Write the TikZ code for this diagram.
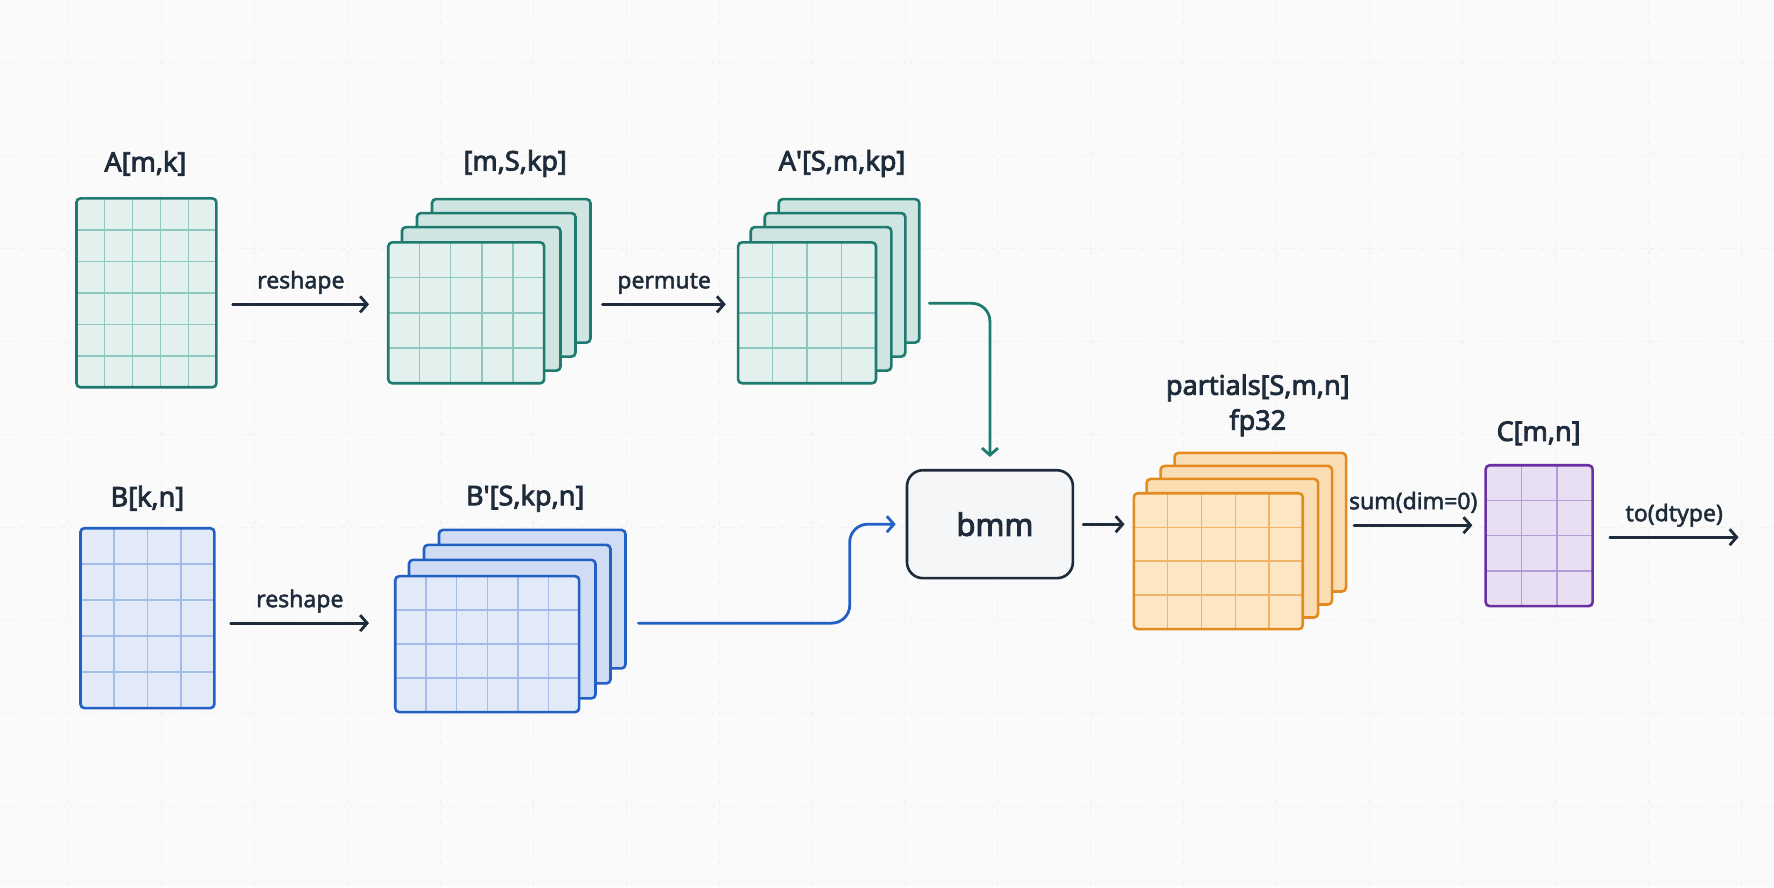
\documentclass[tikz,border=0pt]{standalone}
\usepackage{fontspec}
\setmainfont{Noto Sans}
\newfontfamily\headfont{Noto Sans}[FakeBold=3]
\newfontfamily\tagfont{Noto Sans}[FakeBold=2]
\usepackage{tikz}
\usetikzlibrary{positioning,calc,arrows.meta}
\definecolor{ink}{HTML}{1E2B3A}
\definecolor{paper}{HTML}{FAFAFA}
\definecolor{boxfill}{HTML}{F5F6F8}
\definecolor{tealline}{HTML}{1F7A70}
\definecolor{tealfill}{HTML}{E3F1EE}
\definecolor{tealgrid}{HTML}{8FC6BF}
\definecolor{blueline}{HTML}{2360C4}
\definecolor{bluefill}{HTML}{E2EAF8}
\definecolor{bluegrid}{HTML}{A3BCE8}
\definecolor{orangeline}{HTML}{E38B1E}
\definecolor{orangefill}{HTML}{FDE6C4}
\definecolor{orangegrid}{HTML}{F2B466}
\definecolor{purpleline}{HTML}{6B2FA3}
\definecolor{purplefill}{HTML}{E8DFF2}
\definecolor{purplegrid}{HTML}{B59BD8}
\pgfdeclarelayer{paper}
\pgfdeclarelayer{sheets}
\pgfsetlayers{paper,sheets,main}
\tikzset{
  guide/.style={draw=black!6, line width=1pt, dash pattern=on 5pt off 5pt},
  tensor/.style={draw=#1line, fill=#1fill, line width=2.6pt, rounded corners=4pt, inner sep=0pt},
  sheet/.style={draw=#1line, fill=#1fill!90!#1line, line width=2.6pt, rounded corners=4pt},
  cells/.style n args={3}{path picture={
    \coordinate (sw) at (path picture bounding box.south west);
    \coordinate (ne) at (path picture bounding box.north east);
    \foreach \c in {1,...,#1}
      \draw[#3, line width=1.4pt] ($(sw)!{\c/#1}!(sw -| ne)$) -- ($(sw |- ne)!{\c/#1}!(ne)$);
    \foreach \r in {1,...,#2}
      \draw[#3, line width=1.4pt] ($(sw)!{\r/#2}!(sw |- ne)$) -- ($(sw -| ne)!{\r/#2}!(ne)$);
  }},
  op/.style={draw=ink, fill=boxfill, line width=2.6pt, rounded corners=16pt, minimum width=166pt,
    minimum height=108pt, font=\headfont\fontsize{31}{34}\selectfont, text=ink},
  title/.style={font=\headfont\fontsize{27}{35}\selectfont, text=ink, align=center},
  lbl/.style={font=\tagfont\fontsize{23}{26}\selectfont, text=ink, anchor=base, yshift=16pt},
  flow/.style={-{Straight Barb[length=7pt,width=16pt]}, line width=2.8pt, draw=ink, line cap=round, line join=round}
}
\begin{document}
\begin{tikzpicture}[x=1pt,y=-1pt]
  \begin{pgfonlayer}{paper}
    \fill[paper] (0,0) rectangle (1774,887);
    \foreach \gx in {68,161,...,1774} \draw[guide] (\gx,0) -- (\gx,887);
    \foreach \gy in {62,155,...,887} \draw[guide] (0,\gy) -- (1774,\gy);
  \end{pgfonlayer}
  \useasboundingbox (0,0) rectangle (1774,887);

  % tensors
  \node[tensor=teal, cells={5}{6}{tealgrid}, minimum width=140pt, minimum height=189pt] (A) at (146,292.5) {};
  \node[tensor=teal, cells={5}{4}{tealgrid}, minimum width=156pt, minimum height=141pt] (mS) at (466,312.5) {};
  \node[tensor=teal, cells={4}{4}{tealgrid}, minimum width=138pt, minimum height=141pt] (Ap) at (807,312.5) {};
  \node[tensor=blue, cells={4}{5}{bluegrid}, minimum width=134pt, minimum height=180pt] (B) at (147,618) {};
  \node[tensor=blue, cells={6}{4}{bluegrid}, minimum width=184pt, minimum height=136pt] (Bp) at (487,644) {};
  \node[op] (bmm) at (990,524) {\hspace*{10pt}bmm};
  \node[tensor=orange, cells={5}{4}{orangegrid}, minimum width=169pt, minimum height=136pt] (pS) at (1218.5,561) {};
  \node[tensor=purple, cells={3}{4}{purplegrid}, minimum width=107pt, minimum height=141pt] (C) at (1539.5,535.5) {};
  \coordinate (out) at (1739,537);

  % stacked slices behind the front ones
  \begin{pgfonlayer}{sheets}
    \foreach \n/\clr/\dx/\dy in {mS/teal/15/14, Ap/teal/14/14, Bp/blue/15/15, pS/orange/14/13}
      \foreach \k in {3,2,1}
        \draw[sheet=\clr] ([shift={(\k*\dx,-\k*\dy)}]\n.south west) rectangle ([shift={(\k*\dx,-\k*\dy)}]\n.north east);
  \end{pgfonlayer}

  % titles
  \node[title] (tA) at (145,163) {A[m,k]};
  \node[title] (tmS) at (515,163) {[m,S,kp]};
  \node[title] (tAp) at (842,163) {A\textquotesingle[S,m,kp]};
  \node[title] (tB) at (147,498) {B[k,n]};
  \node[title] (tBp) at (525,498) {B\textquotesingle[S,kp,n]};
  \node[title] (tpS) at (1258,405) {partials[S,m,n]\\fp32};
  \node[title] (tC) at (1539,433) {C[m,n]};

  % connectors
  \draw[flow] ([xshift=15pt,yshift=-11.5pt]A.east) -- node[lbl] {reshape} ([xshift=-18pt,yshift=8.5pt]mS.west);
  \draw[flow] ([xshift=57pt,yshift=8.5pt]mS.east) -- node[lbl] {permute} ([xshift=-11pt,yshift=8.5pt]Ap.west);
  \draw[flow] ([xshift=15pt,yshift=-5pt]B.east) -- node[lbl] {reshape} ([xshift=-25pt,yshift=21pt]Bp.west);
  \draw[flow, draw=tealline, rounded corners=18pt] ([xshift=52pt,yshift=9.5pt]Ap.east) -| ([yshift=12pt]bmm.north);
  \draw[flow, draw=blueline, rounded corners=18pt] ([xshift=58pt,yshift=21pt]Bp.east) -| ([xshift=-56pt]bmm.west) -- ([xshift=-10pt]bmm.west);
  \draw[flow] ([xshift=9pt]bmm.east) -- ($(bmm.east -| pS.west)+(-8,0)$);
  \draw[flow] ([xshift=50pt,yshift=36pt]pS.east) -- node[lbl] {sum(dim=0)} ([xshift=-12pt,yshift=10.5pt]C.west);
  \draw[flow] ([xshift=16pt,yshift=-1.5pt]C.east) -- node[lbl] {to(dtype)} (out);
\end{tikzpicture}
\end{document}
